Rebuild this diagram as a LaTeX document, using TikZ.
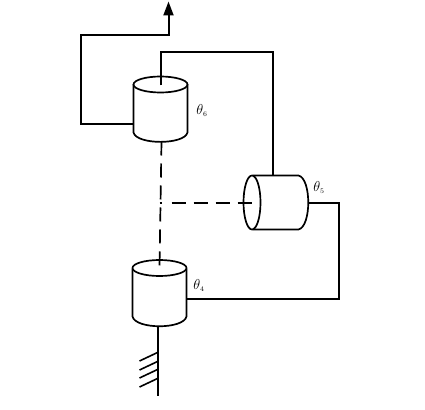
\documentclass[tikz,border=0pt]{standalone}
\usetikzlibrary{arrows.meta}
\tikzset{
  part/.style={line width=1.7pt, fill=white},
  wire/.style={line width=2pt, line join=miter},
  dashline/.style={line width=1.7pt, dash pattern=on 14pt off 8pt},
  lbl/.style={inner sep=0pt, font=\fontsize{14}{16}\selectfont},
}
\begin{document}
\begin{tikzpicture}[x=1pt,y=-1pt]
\useasboundingbox (0,0) rectangle (425,409);
\begin{scope}[shift={(0.5,0.5)}]
% named anchors
\coordinate (c6bot) at (161,141);
\coordinate (c4top) at (159,267);
\coordinate (junc) at (159,202);
\coordinate (junc2) at (161.5,202);
\coordinate (dashstart) at (171,202);
\coordinate (c5in) at (253,202);
\coordinate (c6left) at (133,123);
\coordinate (c6top) at (160,85);
\coordinate (tip) at (168,1);
\coordinate (c5top) at (272,175);
\coordinate (c5right) at (308,202);
\coordinate (c4right) at (186,298);
\coordinate (c4bot) at (157,325);
\coordinate (gnd) at (157,395);
% wires
\draw[wire,-{Triangle[length=14pt,width=10pt]}] (c6left) -- (80,123) -- (80,35) -- (168,35) -- (tip);
\draw[wire] (c6top) -- (160,52) -- (272,52) -- (c5top);
\draw[wire] (c5right) -- (338,202) -- (338,298) -- (c4right);
\draw[wire] (c4bot) -- (gnd);
\foreach \y in {352,361,369,378}
  \draw[line width=1.6pt] (157,\y) -- (139,\y+8.5);
% cylinder 6
\draw[part] (133,84) -- (133,132) .. controls (136,144.5) and (184,144.5) .. (187,132) -- (187,84);
\draw[part,fill=none] (160,84) ellipse [x radius=27, y radius=8];
\draw[wire] (160,85) -- (160,70);
% cylinder 4
\draw[part] (132,268) -- (132,316) .. controls (135,329) and (183,329) .. (186,316) -- (186,268);
\draw[part,fill=none] (159,267.5) ellipse [x radius=27, y radius=8];
% cylinder 5
\draw[part] (252,175) -- (298,175) .. controls (311,178) and (311,226) .. (298,229) -- (252,229);
\draw[part,fill=none] (251.5,202) ellipse [x radius=8.5, y radius=27];
% dashed axes
\draw[dashline] (c6bot) -- (c4top);
\draw[wire,dash pattern=on 14pt off 8pt] (dashstart) -- (c5in);
\draw[wire] (junc) -- (junc2);
% labels
\node[lbl] (t6) at (201.5,110) {$\theta_{\scriptscriptstyle 6}$};
\node[lbl] (t5) at (318.5,187) {$\theta_{\scriptscriptstyle 5}$};
\node[lbl] (t4) at (198.5,285) {$\theta_{\scriptscriptstyle 4}$};
\end{scope}
\end{tikzpicture}
\end{document}
